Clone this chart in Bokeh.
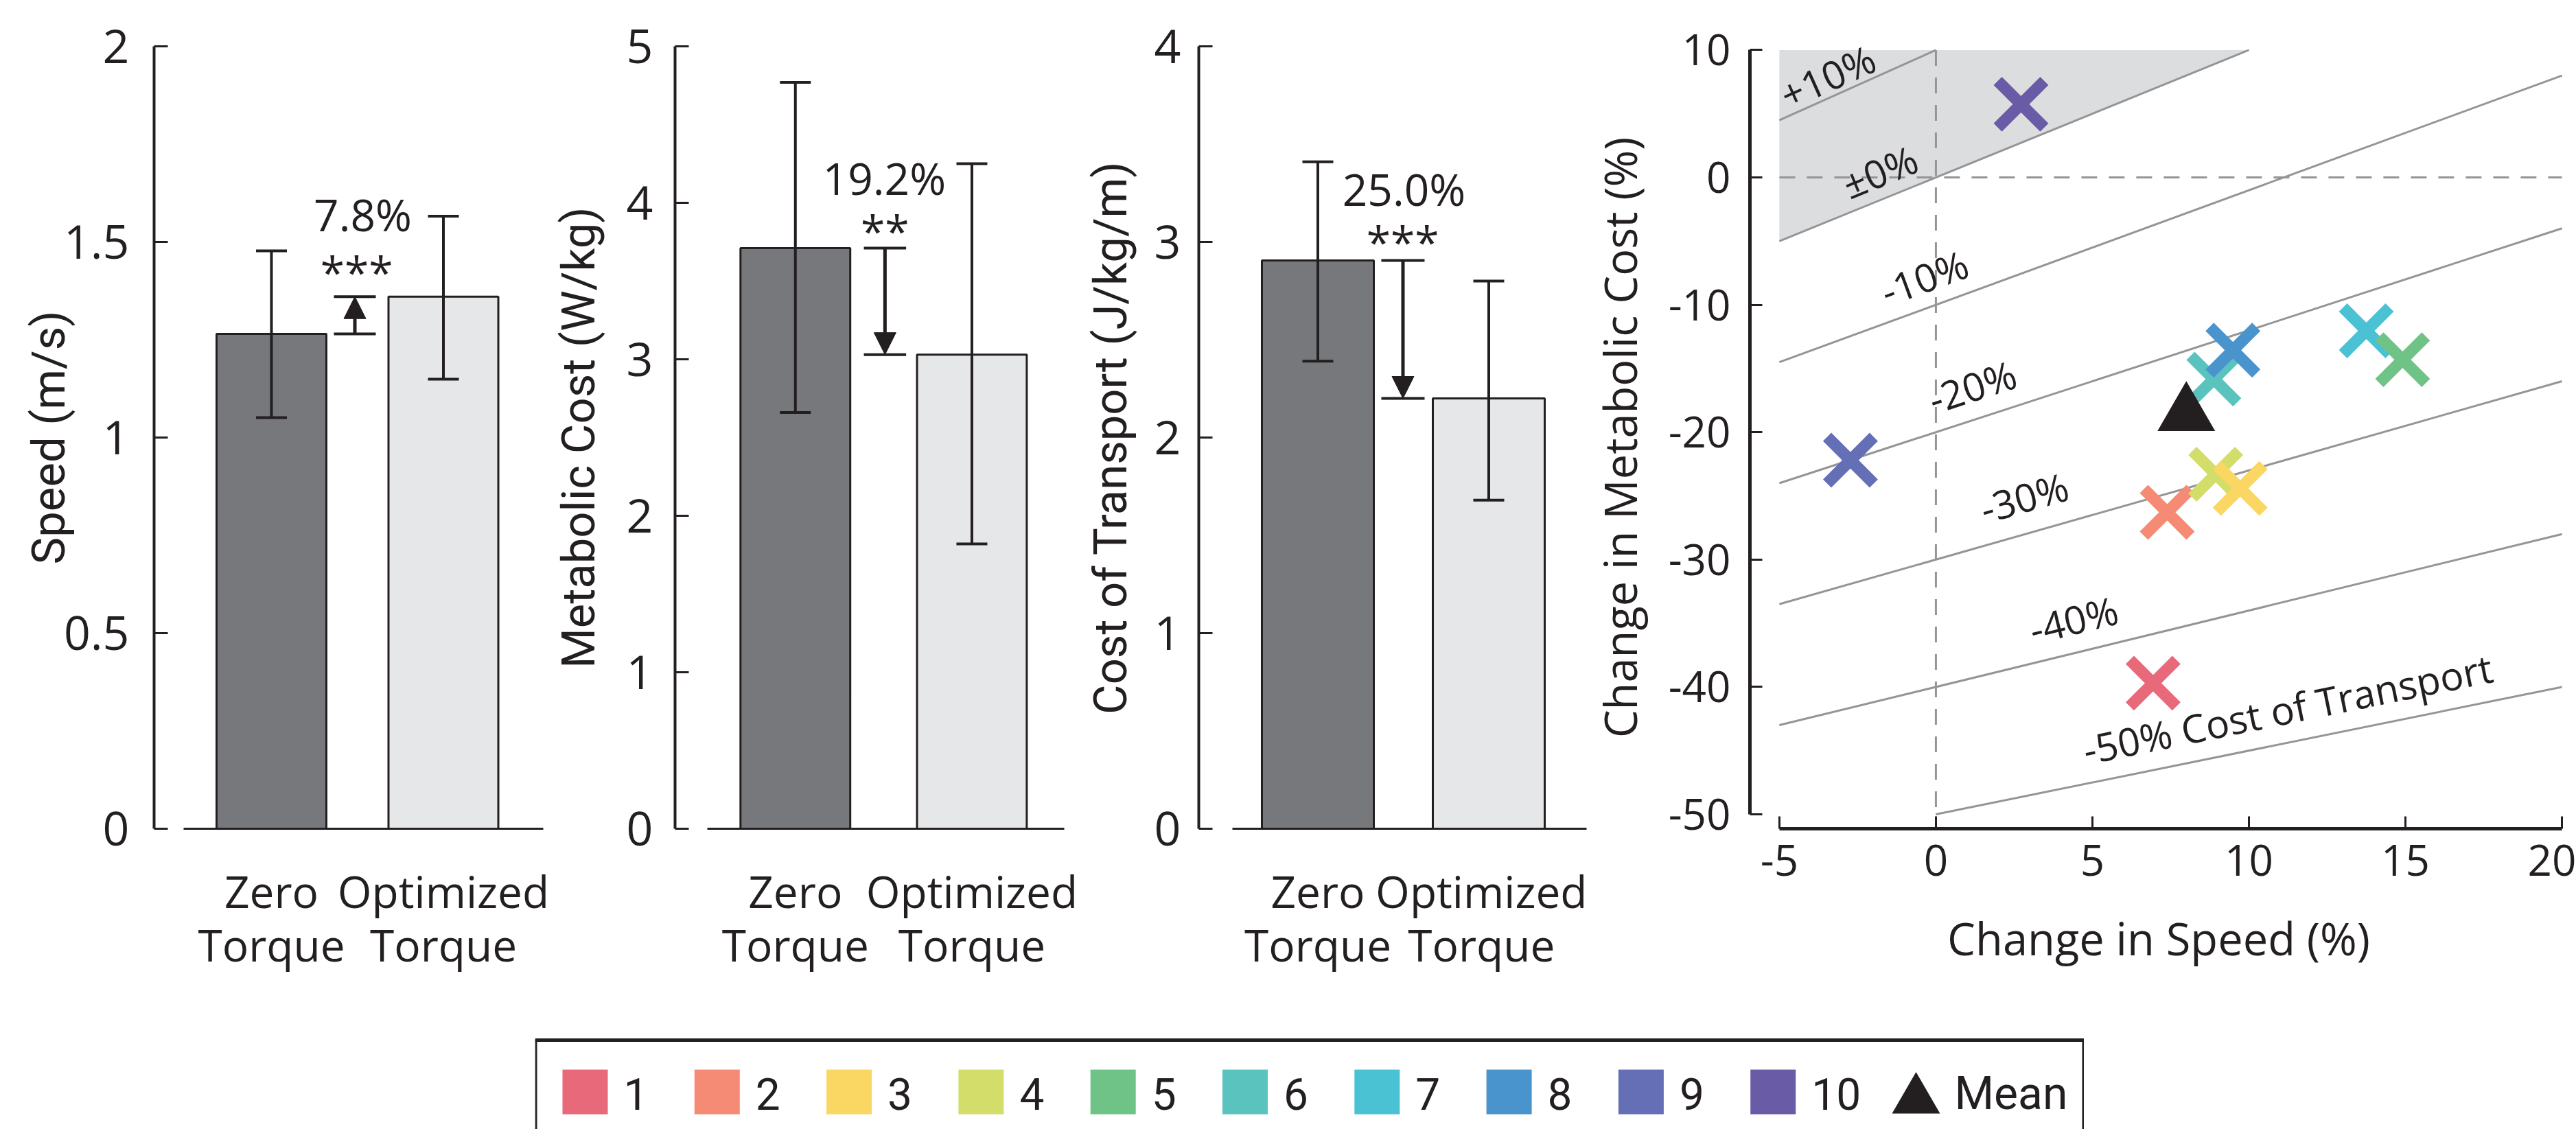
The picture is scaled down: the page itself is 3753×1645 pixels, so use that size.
import numpy as np
from bokeh.plotting import figure
from bokeh.models import (Range1d, FixedTicker, NumeralTickFormatter, Whisker, TeeHead,
                          Arrow, NormalHead, ColumnDataSource, Spacer)
from bokeh.layouts import row, column
from bokeh.embed import file_html
from bokeh.resources import INLINE
from bokeh.core.properties import value

# ---------------- data ----------------
condition_labels = ["Zero\nTorque", "Optimized\nTorque"]
bar_colors = ["#77787B", "#E6E7E8"]

speed_mean = [1.265, 1.36]
speed_low = [1.051, 1.149]
speed_high = [1.477, 1.566]

met_mean = [3.71, 3.03]
met_low = [2.66, 1.82]
met_high = [4.77, 4.25]

cot_mean = [2.905, 2.20]
cot_low = [2.39, 1.68]
cot_high = [3.41, 2.80]

change_labels = ["7.8%", "19.2%", "25.0%"]
signif_labels = ["***", "**", "***"]

subjects = ["1", "2", "3", "4", "5", "6", "7", "8", "9", "10"]
subject_colors = ["#E8697A", "#F58B75", "#FAD663", "#D2DE69", "#70C387",
                  "#5BC3BD", "#4BC1D4", "#4A94CE", "#646FB5", "#6A5BA6"]
speed_change = [6.94, 7.39, 9.72, 8.94, 14.91, 8.88, 13.75, 9.49, -2.73, 2.72]
met_change = [-39.7, -26.29, -24.41, -23.3, -14.31, -15.83, -12.04, -13.56, -22.2, 5.75]
mean_speed_change = 8.0
mean_met_change = -18.6

cot_levels = [10, 0, -10, -20, -30, -40, -50]
cot_level_labels = ["+10%", "\u00b10%", "-10%", "-20%", "-30%", "-40%", "-50% Cost of Transport"]

# ---------------- style / layout ----------------
DARK = "#231F20"
LINE_GRAY = "#939598"
SHADE = "#DCDDDE"
ROW_H = 1480
TOP = 67
BOTTOM = 1207
NUM_FONT = "Open Sans"
TITLE_FONT = "Roboto"


def style_common(p):
    p.grid.visible = False
    p.outline_line_color = None
    p.background_fill_color = "white"
    p.border_fill_color = "white"


def bar_panel(cfg, means, lows, highs, ymax, yticks, ylabel, pct, sig):
    x0 = cfg["fig_x0"]
    axis = cfg["axis"]
    c1, c2 = cfg["centers"]
    u = c2 - c1

    def to_x(px):
        return 1 + (px - c1) / u

    def to_y(py):
        return (BOTTOM - py) / (BOTTOM - TOP) * ymax

    p = figure(width=cfg["fig_w"], height=ROW_H, output_backend="svg", toolbar_location=None,
               x_range=Range1d(to_x(axis), to_x(cfg["frame_r"])), y_range=Range1d(0, ymax),
               min_border_left=axis - x0, min_border_right=x0 + cfg["fig_w"] - cfg["frame_r"],
               min_border_top=TOP, min_border_bottom=ROW_H - BOTTOM)
    style_common(p)

    src = ColumnDataSource(dict(x=[1, 2], top=means, lo=lows, hi=highs, color=bar_colors))
    p.vbar(x="x", top="top", bottom=0, width=cfg["bar_w"] / u, fill_color="color",
           line_color=DARK, line_width=3, source=src)
    w = Whisker(base="x", upper="hi", lower="lo", source=src, line_color=DARK, line_width=4,
                upper_head=TeeHead(size=45, line_color=DARK, line_width=4),
                lower_head=TeeHead(size=45, line_color=DARK, line_width=4), level="annotation")
    p.add_layout(w)

    # significance bracket
    bx = to_x(cfg["bracket_px"])
    hw = cfg["bracket_w"] / 2 / u
    p.segment(x0=[bx - hw, bx - hw], x1=[bx + hw, bx + hw], y0=means, y1=means,
              line_color=DARK, line_width=4)
    p.add_layout(Arrow(end=NormalHead(size=32, fill_color=DARK, line_color=DARK, line_width=1),
                       x_start=bx, y_start=means[0], x_end=bx, y_end=means[1],
                       line_color=DARK, line_width=5))
    p.text(x=[to_x(cfg["pct_px"])], y=[to_y(cfg["pct_mid"])], text=[pct],
           text_align="center", text_baseline="middle", text_color=DARK,
           text_font=value(NUM_FONT), text_font_size="64px")
    p.text(x=[to_x(cfg["sig_px"])], y=[to_y(cfg["sig_mid"])], text=[sig],
           text_align="center", text_baseline="middle", text_color=DARK,
           text_font=value(NUM_FONT), text_font_size="64px")

    # x axis
    xa = p.xaxis[0]
    xa.ticker = FixedTicker(ticks=[1, 2])
    xa.major_label_overrides = {1: condition_labels[0], 2: condition_labels[1]}
    xa.bounds = (to_x(cfg["base"][0]), to_x(cfg["base"][1]))
    xa.major_tick_in = 0
    xa.major_tick_out = 0
    xa.minor_tick_line_color = None
    xa.axis_line_width = 3
    xa.axis_line_color = DARK
    xa.major_label_text_font = NUM_FONT
    xa.major_label_text_font_size = "64px"
    xa.major_label_text_line_height = 0.9
    xa.major_label_text_color = DARK
    xa.major_label_standoff = 47

    ya = p.yaxis[0]
    ya.ticker = FixedTicker(ticks=yticks)
    ya.formatter = NumeralTickFormatter(format="0.[0]")
    ya.major_tick_in = 20
    ya.major_tick_out = 0
    ya.major_tick_line_width = 3
    ya.major_tick_line_color = DARK
    ya.minor_tick_line_color = None
    ya.axis_line_width = 4
    ya.axis_line_color = DARK
    ya.major_label_text_font = NUM_FONT
    ya.major_label_text_font_size = "68px"
    ya.major_label_text_color = DARK
    ya.major_label_standoff = cfg["tick_standoff"]
    ya.axis_label = ylabel
    ya.axis_label_text_font = TITLE_FONT
    ya.axis_label_text_font_style = "normal"
    ya.axis_label_text_font_size = "67px"
    ya.axis_label_text_color = DARK
    ya.axis_label_standoff = cfg["title_standoff"]
    return p


cfg1 = dict(fig_x0=0, fig_w=800, axis=224, centers=(395, 645.5), bar_w=160, base=(267, 791),
            frame_r=795, tick_standoff=36, title_standoff=-20, bracket_px=516.5, bracket_w=61,
            pct_px=528, pct_mid=312, sig_px=519, sig_mid=396)
cfg2 = dict(fig_x0=800, fig_w=770, axis=979, centers=(1155.5, 1414.5), bar_w=161, base=(1026, 1550),
            frame_r=1555, tick_standoff=32, title_standoff=28, bracket_px=1287, bracket_w=62,
            pct_px=1286, pct_mid=259, sig_px=1287, sig_mid=336)
cfg3 = dict(fig_x0=1570, fig_w=742, axis=1746, centers=(1919.5, 2168.5), bar_w=163, base=(1795, 2311),
            frame_r=2311, tick_standoff=26, title_standoff=22, bracket_px=2043.5, bracket_w=63,
            pct_px=2045, pct_mid=275, sig_px=2043, sig_mid=352)

p1 = bar_panel(cfg1, speed_mean, speed_low, speed_high, 2, [0, 0.5, 1, 1.5, 2], "Speed (m/s)",
               change_labels[0], signif_labels[0])
p2 = bar_panel(cfg2, met_mean, met_low, met_high, 5, [0, 1, 2, 3, 4, 5], "Metabolic Cost (W/kg)",
               change_labels[1], signif_labels[1])
p3 = bar_panel(cfg3, cot_mean, cot_low, cot_high, 4, [0, 1, 2, 3, 4], "Cost of Transport (J/kg/m)",
               change_labels[2], signif_labels[2])

# ---------------- scatter panel ----------------
F4_X0 = 2312
F4_W = 3753 - F4_X0
AX4 = 2546          # y axis line px
XM5 = 2589          # px of x = -5
XPU = 45.72         # px per unit x
FR4 = 3740          # frame right
YT4 = 62            # frame top
Y10 = 67.5          # px of y = 10
YPU = 18.64         # px per unit y

x_start = -5 - (XM5 - AX4) / XPU
x_end = -5 + (FR4 - XM5) / XPU
y_end = 10 + (Y10 - YT4) / YPU
y_start = 10 - (BOTTOM - Y10) / YPU

p4 = figure(width=F4_W, height=ROW_H, output_backend="svg", toolbar_location=None,
            x_range=Range1d(x_start, x_end), y_range=Range1d(y_start, y_end),
            min_border_left=AX4 - F4_X0, min_border_right=F4_X0 + F4_W - FR4,
            min_border_top=YT4, min_border_bottom=ROW_H - BOTTOM)
style_common(p4)

xmin, xmax, ymin, ymax = -5, 20, -50, 10


def met_on_line(c, s):
    return 100 * ((1 + c / 100) * (1 + s / 100) - 1)


def speed_on_line(c, m):
    return 100 * ((1 + m / 100) / (1 + c / 100) - 1)


# shaded region: cost of transport increases
s_top = speed_on_line(0, ymax)
p4.patch(x=[xmin, s_top, xmin], y=[ymax, ymax, met_on_line(0, xmin)],
         fill_color=SHADE, line_color=None)

# dashed reference lines
p4.line(x=[xmin, xmax], y=[0, 0], line_color=LINE_GRAY, line_width=3, line_dash="23 17")
p4.line(x=[0, 0], y=[ymax, ymin], line_color=LINE_GRAY, line_width=3, line_dash="23 17")

# iso cost-of-transport lines
ratio = YPU / XPU
label_pos = [(-3.46, 7.93), (-1.79, 0.48), (-0.37, -7.84), (1.16, -16.4),
             (2.82, -25.1), (4.40, -34.7), (11.24, -41.7)]
for c, lab, (lx, ly) in zip(cot_levels, cot_level_labels, label_pos):
    s0 = max(xmin, speed_on_line(c, ymin))
    s1 = min(xmax, speed_on_line(c, ymax))
    p4.line(x=[s0, s1], y=[met_on_line(c, s0), met_on_line(c, s1)],
            line_color=LINE_GRAY, line_width=3)
    ang = float(np.arctan((1 + c / 100) * ratio))
    p4.text(x=[lx], y=[ly], text=[lab], angle=ang, text_align="center", text_baseline="middle",
            text_color=DARK, text_font=value(NUM_FONT), text_font_size="57px")

order = np.argsort(speed_change)
p4.scatter(x=[speed_change[i] for i in order], y=[met_change[i] for i in order],
           marker="x", size=96, line_width=17,
           line_color=[subject_colors[i] for i in order])
p4.scatter(x=[mean_speed_change], y=[mean_met_change], marker="triangle", size=84,
           fill_color=DARK, line_color=None)

xa = p4.xaxis[0]
xa.ticker = FixedTicker(ticks=[-5, 0, 5, 10, 15, 20])
xa.formatter = NumeralTickFormatter(format="0")
xa.bounds = (xmin, xmax)
ya = p4.yaxis[0]
ya.ticker = FixedTicker(ticks=[-50, -40, -30, -20, -10, 0, 10])
ya.formatter = NumeralTickFormatter(format="0")
ya.bounds = (ymin, ymax)
for ax in (xa, ya):
    ax.major_tick_in = 18
    ax.major_tick_out = 0
    ax.major_tick_line_width = 3
    ax.major_tick_line_color = DARK
    ax.minor_tick_line_color = None
    ax.axis_line_width = 5
    ax.axis_line_color = DARK
    ax.major_label_text_font = NUM_FONT
    ax.major_label_text_font_size = "62px"
    ax.major_label_text_color = DARK
    ax.axis_label_text_font = NUM_FONT
    ax.axis_label_text_font_style = "normal"
    ax.axis_label_text_font_size = "65px"
    ax.axis_label_text_color = DARK
xa.major_label_standoff = 23
xa.axis_label = "Change in Speed (%)"
xa.axis_label_standoff = 44
ya.major_label_standoff = 28
ya.axis_label = "Change in Metabolic Cost (%)"
ya.axis_label_standoff = 24

# ---------------- legend ----------------
LG_X0 = 779
LG_W = 3036 - LG_X0
LG_H = 165
lg = figure(width=LG_W, height=LG_H, output_backend="svg", toolbar_location=None,
            x_range=Range1d(0, LG_W), y_range=Range1d(0, LG_H),
            x_axis_type=None, y_axis_type=None, min_border=0)
style_common(lg)
BOX_TOP = LG_H - 35
lg.segment(x0=[0, 1.5, LG_W - 1.5], x1=[LG_W, 1.5, LG_W - 1.5],
           y0=[BOX_TOP, BOX_TOP, BOX_TOP], y1=[BOX_TOP, 0, 0],
           line_color=DARK, line_width=[5, 3, 3])
STEP = 192.3
lefts = [40 + STEP * i for i in range(len(subjects))]
lg.quad(left=lefts, right=[l + 66 for l in lefts], top=[LG_H - 78] * len(subjects),
        bottom=[LG_H - 143] * len(subjects), fill_color=subject_colors, line_color=None)
lg.text(x=[l + 89 for l in lefts], y=[LG_H - 113.5] * len(subjects), text=subjects,
        text_align="left", text_baseline="middle", text_color=DARK,
        text_font=value(TITLE_FONT), text_font_size="64px")
lg.scatter(x=[2012], y=[LG_H - 121.8], marker="triangle", size=70, fill_color=DARK, line_color=None)
lg.text(x=[2068], y=[LG_H - 112.5], text=["Mean"], text_align="left", text_baseline="middle",
        text_color=DARK, text_font=value(TITLE_FONT), text_font_size="66px")

layout = column(row(p1, p2, p3, p4), row(Spacer(width=LG_X0, height=LG_H), lg))
open("out.html", "w").write(file_html(layout, INLINE))
